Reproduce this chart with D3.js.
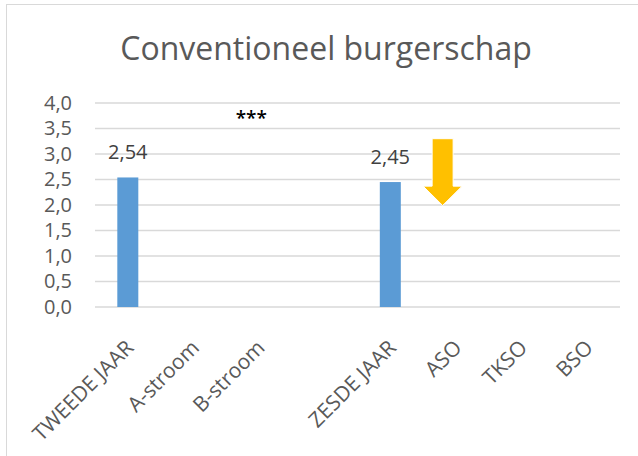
<!DOCTYPE html>
<html>
<head>
<meta charset="utf-8">
<script src="https://cdn.jsdelivr.net/npm/d3@7"></script>
<style>
  html, body { margin: 0; padding: 0; background: #fff; }
  svg { display: block; }
</style>
</head>
<body>
<div id="chart"></div>
<script>
// ---- data ----
const categories = ['TWEEDE JAAR', 'A-stroom', 'B-stroom', '', 'ZESDE JAAR', 'ASO', 'TKSO', 'BSO'];
const values = [2.54, null, null, null, 2.45, null, null, null];
const yTicks = [0, 0.5, 1, 1.5, 2, 2.5, 3, 3.5, 4];
const chartTitle = 'Conventioneel burgerschap';
const significance = { category: 'B-stroom', value: 3.75, label: '***' };
const trendArrow = { category: 'ASO', from: 3.3, headAt: 2.37, to: 1.99 };

const W = 638, H = 456;
const FONT = "'Open Sans', sans-serif";
const TEXT = '#595959';

const svg = d3.select('#chart').append('svg')
  .attr('width', W).attr('height', H);

// chart area frame
svg.append('rect')
  .attr('x', 6.5).attr('y', 4.5)
  .attr('width', 700).attr('height', 470)
  .attr('fill', '#fff')
  .attr('stroke', '#d9d9d9')
  .attr('stroke-width', 1);

const x = d3.scaleBand().domain(d3.range(categories.length))
  .range([95, 620]).paddingInner(0).paddingOuter(0);
const y = d3.scaleLinear().domain([0, 4]).range([307, 103]);
const fmt = v => d3.format('.1f')(v).replace('.', ',');

// title
svg.append('text')
  .attr('x', 326).attr('y', 60)
  .attr('text-anchor', 'middle')
  .attr('fill', TEXT)
  .style('font-family', FONT)
  .style('font-size', '32px')
  .text(chartTitle);

// grid lines
const grid = svg.append('g');
grid.selectAll('line').data(yTicks).join('line')
  .attr('x1', x.range()[0]).attr('x2', x.range()[1])
  .attr('y1', d => y(d)).attr('y2', d => y(d))
  .attr('stroke', '#d9d9d9')
  .attr('stroke-width', 1.3);

// y axis labels
const yAxis = svg.append('g')
  .attr('transform', 'translate(72,0)')
  .call(d3.axisLeft(y).tickValues(yTicks).tickFormat(fmt).tickSize(0).tickPadding(0));
yAxis.select('.domain').remove();
yAxis.selectAll('text')
  .attr('fill', TEXT)
  .style('font-family', FONT)
  .style('font-size', '20px');

// x axis labels (rotated)
const xAxis = svg.append('g')
  .attr('transform', `translate(0,${y(0)})`)
  .call(d3.axisBottom(x).tickFormat(i => categories[i]).tickSize(0));
xAxis.select('.domain').remove();
xAxis.selectAll('text')
  .attr('fill', TEXT)
  .style('font-family', FONT)
  .style('font-size', '21px')
  .attr('text-anchor', 'end')
  .attr('dy', null)
  .attr('y', 0)
  .attr('transform', 'translate(7,42) rotate(-45)');

// bars
const bw = 21;
const barData = values.map((v, i) => ({ v, i })).filter(d => d.v != null);
svg.append('g').selectAll('rect').data(barData).join('rect')
  .attr('x', d => x(d.i) + x.bandwidth() / 2 - bw / 2)
  .attr('y', d => y(d.v))
  .attr('width', bw)
  .attr('height', d => y(0) - y(d.v))
  .attr('fill', '#5b9bd5');

// data labels
svg.append('g').selectAll('text').data(barData).join('text')
  .attr('x', d => x(d.i) + x.bandwidth() / 2)
  .attr('y', d => y(d.v) - 18)
  .attr('text-anchor', 'middle')
  .attr('fill', '#404040')
  .style('font-family', FONT)
  .style('font-size', '20px')
  .text(d => d.v.toFixed(2).replace('.', ','));

// significance marker
const si = categories.indexOf(significance.category);
svg.append('text')
  .attr('x', x(si) + 25)
  .attr('y', y(significance.value) + 9)
  .attr('text-anchor', 'middle')
  .attr('fill', '#000')
  .style('font-family', FONT)
  .style('font-size', '19px')
  .style('font-weight', '600')
  .text(significance.label);

// down arrow next to ASO
const ai = categories.indexOf(trendArrow.category);
const ax0 = x(ai), ax1 = x(ai) + 39, acx = (ax0 + ax1) / 2, sh = 10.5;
svg.append('path')
  .attr('d', `M${acx - sh},${y(trendArrow.from)} L${acx + sh},${y(trendArrow.from)} ` +
    `L${acx + sh},${y(trendArrow.headAt)} L${ax1},${y(trendArrow.headAt)} ` +
    `L${acx},${y(trendArrow.to)} L${ax0},${y(trendArrow.headAt)} ` +
    `L${acx - sh},${y(trendArrow.headAt)} Z`)
  .attr('fill', '#ffc000')
  .attr('stroke', '#fff')
  .attr('stroke-width', 1);
</script>
</body>
</html>
